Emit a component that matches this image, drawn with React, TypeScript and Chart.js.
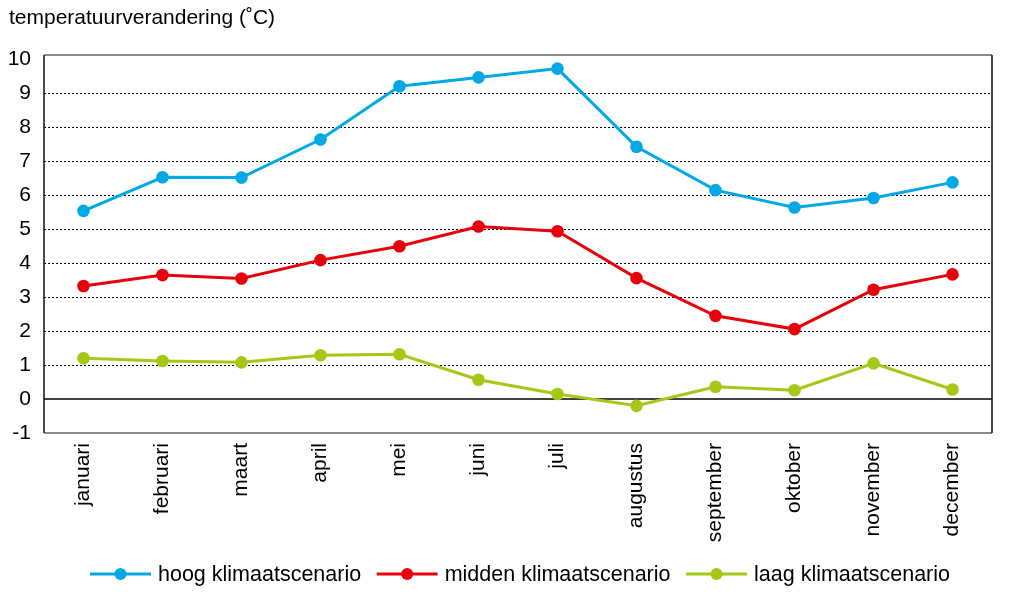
import React, { useEffect, useRef } from "react";
import { Chart, registerables } from "chart.js";

Chart.register(...registerables);

const months = [
  "januari", "februari", "maart", "april", "mei", "juni",
  "juli", "augustus", "september", "oktober", "november", "december",
];
const hoog = [5.54, 6.53, 6.52, 7.64, 9.21, 9.47, 9.73, 7.43, 6.15, 5.64, 5.92, 6.38];
const midden = [3.33, 3.65, 3.55, 4.09, 4.5, 5.08, 4.94, 3.56, 2.45, 2.06, 3.22, 3.67];
const laag = [1.2, 1.12, 1.08, 1.29, 1.32, 0.57, 0.15, -0.2, 0.36, 0.26, 1.05, 0.28];
const yTicks = [-1, 0, 1, 2, 3, 4, 5, 6, 7, 8, 9, 10];
const seriesLabels = ["hoog klimaatscenario", "midden klimaatscenario", "laag klimaatscenario"];
const seriesColors = ["#00a9e6", "#e8000b", "#a4c816"];
const titleText = "temperatuurverandering (\u02DAC)";

const FONT_FAMILY = '"Liberation Sans", Arial, Helvetica, sans-serif';
const FONT_SIZE = 21;
const LEGEND_FONT_SIZE = 21.5;

const decorPlugin = {
  id: "decor",
  beforeDatasetsDraw(chart: any) {
    const { ctx, chartArea: a, scales } = chart;
    const y0 = scales.y.getPixelForValue(0);
    ctx.save();
    ctx.strokeStyle = "#000";
    ctx.lineWidth = 1.5;
    ctx.beginPath();
    ctx.moveTo(a.left, y0);
    ctx.lineTo(a.right, y0);
    ctx.stroke();
    // frame: top & bottom gray, left & right dark
    ctx.strokeStyle = "#8a8a8a";
    ctx.lineWidth = 2;
    ctx.beginPath();
    ctx.moveTo(a.left, a.top);
    ctx.lineTo(a.right, a.top);
    ctx.moveTo(a.left, a.bottom);
    ctx.lineTo(a.right, a.bottom);
    ctx.stroke();
    ctx.strokeStyle = "#111";
    ctx.lineWidth = 1.5;
    ctx.beginPath();
    ctx.moveTo(a.left, a.top);
    ctx.lineTo(a.left, a.bottom);
    ctx.moveTo(a.right, a.top);
    ctx.lineTo(a.right, a.bottom);
    ctx.stroke();
    ctx.restore();
  },
  afterDraw(chart: any) {
    const { ctx, chartArea: a } = chart;
    ctx.save();
    ctx.font = `${FONT_SIZE}px ${FONT_FAMILY}`;
    ctx.fillStyle = "#000";
    ctx.textBaseline = "middle";
    ctx.textAlign = "left";
    ctx.fillText(titleText, 9, 18);

    // legend
    ctx.font = `${LEGEND_FONT_SIZE}px ${FONT_FAMILY}`;
    const lineLen = 61;
    const gapText = 7;
    const gapItem = 15.5;
    const widths = chart.data.datasets.map((d: any) => ctx.measureText(d.label).width);
    const total =
      widths.reduce((s: number, w: number) => s + w, 0) +
      chart.data.datasets.length * (lineLen + gapText) +
      (chart.data.datasets.length - 1) * gapItem;
    let x = (a.left + a.right) / 2 + 2 - total / 2;
    const ly = 574;
    chart.data.datasets.forEach((d: any, i: number) => {
      ctx.strokeStyle = d.borderColor;
      ctx.lineWidth = 3;
      ctx.beginPath();
      ctx.moveTo(x, ly);
      ctx.lineTo(x + lineLen, ly);
      ctx.stroke();
      ctx.fillStyle = d.backgroundColor;
      ctx.beginPath();
      ctx.arc(x + lineLen / 2, ly, 6, 0, Math.PI * 2);
      ctx.fill();
      x += lineLen + gapText;
      ctx.fillStyle = "#000";
      ctx.fillText(d.label, x, ly + 1);
      x += widths[i] + gapItem;
    });
    ctx.restore();
  },
};

export default function App() {
  const canvasRef = useRef<HTMLCanvasElement | null>(null);

  useEffect(() => {
    document.body.style.margin = "0";
    const canvas = canvasRef.current;
    if (!canvas) return;
    const seriesValues = [hoog, midden, laag];
    const chart = new Chart(canvas, {
      type: "line",
      data: {
        labels: months,
        datasets: seriesValues.map((vals, i) => ({
          label: seriesLabels[i],
          data: vals,
          borderColor: seriesColors[i],
          backgroundColor: seriesColors[i],
          pointBackgroundColor: seriesColors[i],
          pointBorderColor: seriesColors[i],
          pointRadius: 6.3,
          pointBorderWidth: 0,
          borderWidth: 3,
          tension: 0,
          clip: false as any,
        })),
      },
      options: {
        animation: false,
        responsive: false,
        layout: { padding: { top: 55, right: 31, bottom: 50, left: 0 } },
        plugins: {
          legend: { display: false },
          title: { display: false },
          tooltip: { enabled: false },
        },
        scales: {
          x: {
            type: "category",
            offset: true,
            grid: { display: false, drawTicks: false },
            border: { display: false },
            ticks: {
              autoSkip: false,
              minRotation: 90,
              maxRotation: 90,
              padding: 10,
              color: "#000",
              font: { family: FONT_FAMILY, size: FONT_SIZE },
            },
            afterFit: (scale: any) => {
              scale.height = 112;
            },
          },
          y: {
            type: "linear",
            min: -1,
            max: 10.13,
            afterBuildTicks: (scale: any) => {
              scale.ticks = yTicks.map((v) => ({ value: v }));
            },
            afterFit: (scale: any) => {
              scale.width = 44;
            },
            grid: {
              drawTicks: false,
              color: (c: any) => {
                const v = c.tick ? c.tick.value : null;
                return v === -1 || v === 0 || v === 10 ? "rgba(0,0,0,0)" : "#000";
              },
              lineWidth: 1,
            },
            border: { display: false, dash: [2, 2] },
            ticks: {
              padding: 13,
              color: "#000",
              font: { family: FONT_FAMILY, size: FONT_SIZE },
              callback: (v: any) => String(v),
            },
          },
        },
      },
      plugins: [decorPlugin],
    });
    return () => chart.destroy();
  }, []);

  return (
    <div style={{ width: 1023, height: 595 }}>
      <canvas ref={canvasRef} width={1023} height={595} style={{ display: "block" }} />
    </div>
  );
}
